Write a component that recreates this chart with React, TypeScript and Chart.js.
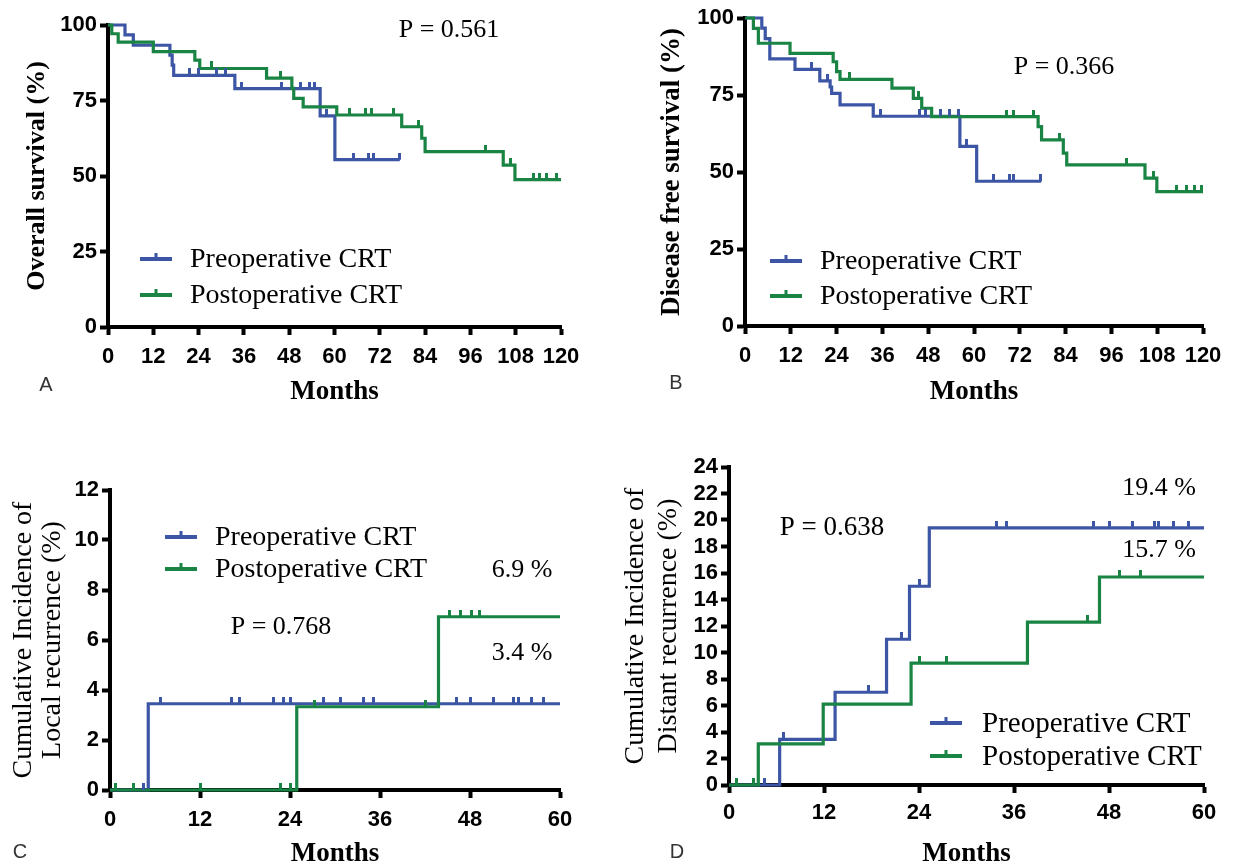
import React, { useEffect, useRef } from "react";
import { Chart, registerables } from "chart.js";

Chart.register(...registerables);

// ---------------- data ----------------
const SERIES_NAMES = ["Preoperative CRT", "Postoperative CRT"];

const X_TICKS_120 = [0, 12, 24, 36, 48, 60, 72, 84, 96, 108, 120];
const X_TICKS_60 = [0, 12, 24, 36, 48, 60];
const Y_TICKS_SURV = [0, 25, 50, 75, 100];
const Y_TICKS_LR = [0, 2, 4, 6, 8, 10, 12];
const Y_TICKS_DR = [0, 2, 4, 6, 8, 10, 12, 14, 16, 18, 20, 22, 24];

// A: overall survival
const OS_PRE_T = [0, 4.5, 6.7, 16.4, 17.0, 17.4, 33.6, 56.2, 60.1];
const OS_PRE_S = [100, 96.7, 93.3, 90.0, 86.7, 83.3, 78.9, 69.9, 55.4];
const OS_PRE_CENSOR = [21.7, 23.9, 28.8, 31.0, 35.4, 46.0, 50.9, 53.5, 54.8, 57.9, 65.0, 69.0, 70.3, 77.3];
const OS_PRE_END = 77.3;
const OS_POST_T = [0, 1.0, 2.7, 12.0, 23.0, 24.3, 42.0, 48.7, 49.2, 51.7, 60.6, 77.8, 83.1, 84.0, 104.7, 107.8];
const OS_POST_S = [100, 97.1, 94.3, 91.2, 88.4, 85.6, 82.4, 79.0, 75.7, 72.9, 70.2, 66.3, 62.5, 58.1, 53.6, 48.8];
const OS_POST_CENSOR = [27.5, 45.6, 64.1, 68.1, 69.9, 75.6, 82.2, 99.9, 106.5, 112.6, 114.4, 116.2, 118.8];
const OS_POST_END = 120;

// B: disease free survival
const DFS_PRE_T = [0, 4.4, 5.3, 6.5, 13.1, 19.6, 22.3, 22.7, 24.9, 33.6, 56.3, 60.7];
const DFS_PRE_S = [100, 96.7, 93.3, 86.7, 83.3, 79.6, 77.6, 75.5, 71.8, 68.1, 58.3, 47.0];
const DFS_PRE_CENSOR = [17.5, 21.5, 35.4, 45.8, 47.2, 51.1, 53.7, 55.9, 58.1, 65.0, 69.4, 70.3, 77.3];
const DFS_PRE_END = 77.6;
const DFS_POST_T = [0, 2.2, 3.5, 11.8, 23.1, 24.0, 24.9, 38.5, 44.1, 46.3, 48.9, 76.8, 77.7, 83.4, 84.3, 104.8, 107.9];
const DFS_POST_S = [100, 96.6, 91.8, 88.5, 85.8, 82.6, 80.1, 77.2, 73.9, 70.7, 68.0, 64.7, 60.4, 56.1, 52.3, 48.0, 43.6];
const DFS_POST_CENSOR = [27.5, 45.4, 68.6, 70.3, 75.5, 82.5, 100.0, 107.0, 113.1, 115.7, 117.9, 119.6];
const DFS_POST_END = 120;

// C: local recurrence
const LR_PRE_T = [0, 5.1];
const LR_PRE_V = [0, 3.45];
const LR_PRE_CENSOR = [4.4, 6.7, 16.2, 17.3, 21.8, 23.1, 24.0, 28.4, 30.7, 33.8, 35.1, 46.2, 48.0, 51.1, 53.8, 54.4, 56.2, 57.8];
const LR_PRE_END = 60;
const LR_POST_T = [0, 24.9, 43.8];
const LR_POST_V = [0, 3.33, 6.93];
const LR_POST_CENSOR = [0.7, 3.1, 12.0, 22.7, 24.0, 27.3, 42.0, 45.3, 46.7, 48.2, 49.3];
const LR_POST_END = 60;

// D: distant recurrence
const DR_PRE_T = [0, 6.4, 13.4, 19.9, 22.8, 25.3];
const DR_PRE_V = [0, 3.45, 7.0, 11.0, 15.0, 19.4];
const DR_PRE_CENSOR = [4.5, 6.9, 17.6, 21.8, 24.1, 33.8, 35.0, 46.1, 48.0, 51.0, 53.7, 54.3, 56.2, 58.1];
const DR_PRE_END = 60;
const DR_POST_T = [0, 3.7, 11.9, 23.0, 37.7, 46.8];
const DR_POST_V = [0, 3.1, 6.1, 9.2, 12.3, 15.7];
const DR_POST_CENSOR = [1.0, 3.1, 24.1, 27.5, 45.3, 49.3, 52.0];
const DR_POST_END = 60;

// ---------------- styles ----------------
const BLUE = "#3C55A5";
const GREEN = "#198443";
const SERIF = "'Liberation Serif', 'Times New Roman', serif";
const SANS = "'Liberation Sans', Arial, sans-serif";

type Series = { t: number[]; v: number[]; censor: number[]; end: number };
type Txt = { text: string; x: number; y: number; font: string; align?: CanvasTextAlign; color?: string };
type Spec = {
  left: number; top: number; w: number; h: number;
  area: { l: number; r: number; t: number; b: number };
  xMax: number; xTicks: number[]; yMax: number; yTicks: number[];
  yTitle: string | string[]; yTitleFont: any; yTitlePad: number;
  xTitlePad: number; xTitleLH: number; xTickPad: number;
  pre: Series; post: Series;
  legend: { y: number[]; x0: number; x1: number; tx: number; size: number };
  texts: Txt[];
};

function stepPoints(s: Series) {
  const pts = s.t.map((x, i) => ({ x, y: s.v[i] }));
  pts.push({ x: s.end, y: s.v[s.v.length - 1] });
  return pts;
}
function valueAt(s: Series, time: number) {
  let val = s.v[0];
  for (let i = 0; i < s.t.length; i++) if (s.t[i] <= time) val = s.v[i];
  return val;
}
function tickImage(color: string) {
  const c = document.createElement("canvas");
  c.width = 3;
  c.height = 14;
  const g = c.getContext("2d")!;
  g.fillStyle = color;
  g.fillRect(0, 0, 3, 7);
  return c;
}

const SPECS: Spec[] = [
  {
    left: 0, top: 0, w: 617, h: 420,
    area: { l: 108, r: 561, t: 25, b: 327 },
    xMax: 120, xTicks: X_TICKS_120, yMax: 100, yTicks: Y_TICKS_SURV,
    yTitle: "Overall survival (%)", yTitleFont: { family: SERIF, size: 26, weight: "bold", lineHeight: 1.2 }, yTitlePad: 22,
    xTitlePad: 12, xTitleLH: 1.2, xTickPad: 9,
    pre: { t: OS_PRE_T, v: OS_PRE_S, censor: OS_PRE_CENSOR, end: OS_PRE_END },
    post: { t: OS_POST_T, v: OS_POST_S, censor: OS_POST_CENSOR, end: OS_POST_END },
    legend: { y: [259, 295], x0: 140, x1: 172, tx: 190, size: 28 },
    texts: [
      { text: "P = 0.561", x: 449, y: 30, font: `26px ${SERIF}` },
      { text: "A", x: 46, y: 385, font: `20px ${SANS}`, color: "#333" },
    ],
  },
  {
    left: 617, top: 0, w: 618, h: 420,
    area: { l: 128, r: 586, t: 18, b: 326 },
    xMax: 120, xTicks: X_TICKS_120, yMax: 100, yTicks: Y_TICKS_SURV,
    yTitle: "Disease free survival (%)", yTitleFont: { family: SERIF, size: 27, weight: "bold", lineHeight: 1.2 }, yTitlePad: 39,
    xTitlePad: 12, xTitleLH: 1.2, xTickPad: 9,
    pre: { t: DFS_PRE_T, v: DFS_PRE_S, censor: DFS_PRE_CENSOR, end: DFS_PRE_END },
    post: { t: DFS_POST_T, v: DFS_POST_S, censor: DFS_POST_CENSOR, end: DFS_POST_END },
    legend: { y: [261, 296], x0: 153, x1: 185, tx: 203, size: 28 },
    texts: [
      { text: "P = 0.366", x: 447, y: 67, font: `26px ${SERIF}` },
      { text: "B", x: 59, y: 383, font: `20px ${SANS}`, color: "#333" },
    ],
  },
  {
    left: 0, top: 425, w: 617, h: 440,
    area: { l: 110, r: 560, t: 65, b: 365 },
    xMax: 60, xTicks: X_TICKS_60, yMax: 12, yTicks: Y_TICKS_LR,
    yTitle: ["Cumulative Incidence of", "Local recurrence (%)"], yTitleFont: { family: SERIF, size: 28, lineHeight: "29px" }, yTitlePad: 9,
    xTitlePad: -3, xTitleLH: 1.0, xTickPad: 9,
    pre: { t: LR_PRE_T, v: LR_PRE_V, censor: LR_PRE_CENSOR, end: LR_PRE_END },
    post: { t: LR_POST_T, v: LR_POST_V, censor: LR_POST_CENSOR, end: LR_POST_END },
    legend: { y: [112, 144], x0: 165, x1: 197, tx: 215, size: 28 },
    texts: [
      { text: "6.9 %", x: 522, y: 145, font: `26px ${SERIF}` },
      { text: "P = 0.768", x: 281, y: 202, font: `26px ${SERIF}` },
      { text: "3.4 %", x: 522, y: 228, font: `26px ${SERIF}` },
      { text: "C", x: 20, y: 427, font: `20px ${SANS}`, color: "#333" },
    ],
  },
  {
    left: 617, top: 425, w: 618, h: 440,
    area: { l: 112, r: 587, t: 42, b: 360 },
    xMax: 60, xTicks: X_TICKS_60, yMax: 24, yTicks: Y_TICKS_DR,
    yTitle: ["Cumulative Incidence of", "Distant recurrence (%)"], yTitleFont: { family: SERIF, size: 28, lineHeight: "33px" }, yTitlePad: 2,
    xTitlePad: -3, xTitleLH: 1.0, xTickPad: 7,
    pre: { t: DR_PRE_T, v: DR_PRE_V, censor: DR_PRE_CENSOR, end: DR_PRE_END },
    post: { t: DR_POST_T, v: DR_POST_V, censor: DR_POST_CENSOR, end: DR_POST_END },
    legend: { y: [298, 331], x0: 313, x1: 345, tx: 365, size: 29 },
    texts: [
      { text: "19.4 %", x: 542, y: 63, font: `26px ${SERIF}` },
      { text: "P = 0.638", x: 215, y: 103, font: `27px ${SERIF}` },
      { text: "15.7 %", x: 542, y: 125, font: `26px ${SERIF}` },
      { text: "D", x: 60, y: 427, font: `20px ${SANS}`, color: "#333" },
    ],
  },
];

function overlayPlugin(spec: Spec) {
  return {
    id: "overlay",
    afterDraw(chart: any) {
      const ctx: CanvasRenderingContext2D = chart.ctx;
      ctx.save();
      const lg = spec.legend;
      const colors = [BLUE, GREEN];
      SERIES_NAMES.forEach((name, i) => {
        const y = lg.y[i];
        ctx.fillStyle = colors[i];
        ctx.fillRect(lg.x0, y - 2, lg.x1 - lg.x0, 4);
        const mid = (lg.x0 + lg.x1) / 2;
        ctx.fillRect(mid - 1.5, y - 6, 3, 5);
        ctx.fillStyle = "#000";
        ctx.font = `${lg.size}px ${SERIF}`;
        ctx.textAlign = "left";
        ctx.textBaseline = "middle";
        ctx.fillText(name, lg.tx, y + 1);
      });
      spec.texts.forEach((t) => {
        ctx.fillStyle = t.color || "#000";
        ctx.font = t.font;
        ctx.textAlign = t.align || "center";
        ctx.textBaseline = "middle";
        ctx.fillText(t.text, t.x, t.y);
      });
      ctx.restore();
    },
  };
}

function Panel({ spec }: { spec: Spec }) {
  const ref = useRef<HTMLCanvasElement | null>(null);
  useEffect(() => {
    if (!ref.current) return;
    const { area, w, h } = spec;
    const tickFont = { family: SANS, size: 22, weight: "bold" as const };
    const gridOpts = { display: true, drawOnChartArea: false, drawTicks: true, tickLength: 8, tickWidth: 4, tickColor: "#000" };
    const borderOpts = { display: true, color: "#000", width: 4 };
    const censorData = (s: Series) => s.censor.map((c) => ({ x: c, y: valueAt(s, c) }));
    const chart = new Chart(ref.current, {
      type: "line",
      data: {
        datasets: [
          { label: "censor-post", data: censorData(spec.post), showLine: false, pointStyle: tickImage(GREEN) as any, pointRadius: 4, order: 0, clip: false } as any,
          { label: "censor-pre", data: censorData(spec.pre), showLine: false, pointStyle: tickImage(BLUE) as any, pointRadius: 4, order: 0, clip: false } as any,
          { label: SERIES_NAMES[1], data: stepPoints(spec.post), borderColor: GREEN, borderWidth: 3.2, stepped: "before", pointRadius: 0, fill: false, order: 1, clip: false, borderCapStyle: "butt", borderJoinStyle: "miter" } as any,
          { label: SERIES_NAMES[0], data: stepPoints(spec.pre), borderColor: BLUE, borderWidth: 3.2, stepped: "before", pointRadius: 0, fill: false, order: 2, clip: false, borderCapStyle: "butt", borderJoinStyle: "miter" } as any,
        ],
      },
      options: {
        animation: false,
        responsive: false,
        devicePixelRatio: 1,
        events: [],
        layout: { padding: { left: 0, top: area.t, right: w - area.r, bottom: 0 } },
        plugins: { legend: { display: false }, tooltip: { enabled: false }, title: { display: false } },
        scales: {
          x: {
            type: "linear",
            min: 0,
            max: spec.xMax,
            afterBuildTicks: (s: any) => { s.ticks = spec.xTicks.map((value) => ({ value })); },
            afterFit: (s: any) => { s.height = h - area.b; },
            ticks: { font: tickFont, color: "#000", padding: spec.xTickPad, autoSkip: false, maxRotation: 0 },
            grid: gridOpts,
            border: borderOpts,
            title: { display: true, text: "Months", color: "#000", font: { family: SERIF, size: 27, weight: "bold", lineHeight: spec.xTitleLH }, padding: { top: 0, bottom: spec.xTitlePad } },
          },
          y: {
            type: "linear",
            min: 0,
            max: spec.yMax,
            afterBuildTicks: (s: any) => { s.ticks = spec.yTicks.map((value) => ({ value })); },
            afterFit: (s: any) => { s.width = area.l; },
            ticks: { font: tickFont, color: "#000", padding: 3, autoSkip: false },
            grid: gridOpts,
            border: borderOpts,
            title: { display: true, text: spec.yTitle as any, color: "#000", font: spec.yTitleFont, padding: { top: spec.yTitlePad, bottom: 0 } },
          },
        },
      } as any,
      plugins: [overlayPlugin(spec) as any],
    });
    return () => chart.destroy();
  }, [spec]);
  return (
    <canvas
      ref={ref}
      width={spec.w}
      height={spec.h}
      style={{ position: "absolute", left: spec.left, top: spec.top, width: spec.w, height: spec.h }}
    />
  );
}

export default function App() {
  return (
    <div style={{ position: "absolute", left: 0, top: 0, width: 1235, height: 865, background: "#fff", overflow: "hidden" }}>
      {SPECS.map((s, i) => (
        <Panel key={i} spec={s} />
      ))}
    </div>
  );
}
